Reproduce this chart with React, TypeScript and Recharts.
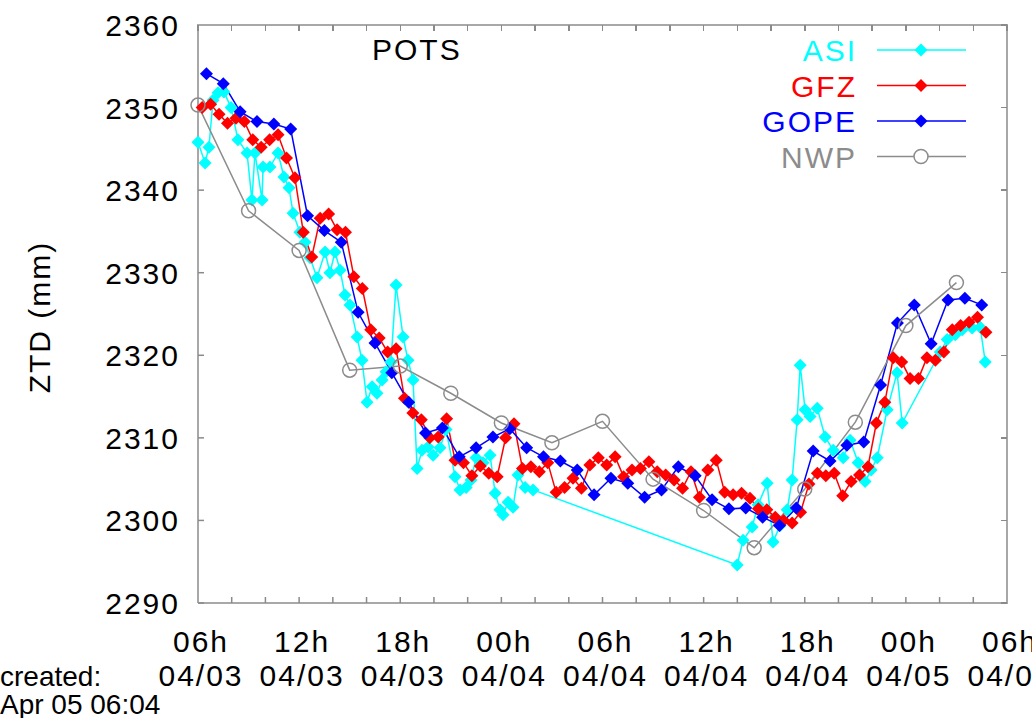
import React from "react";
import { Customized, Line, LineChart, XAxis, YAxis } from "recharts";

// time axis: hours after 06h 04/03
const minorTickHours = [0, 2, 4, 6, 8, 10, 12, 14, 16, 18, 20, 22, 24, 26, 28, 30, 32, 34, 36, 38, 40, 42, 44, 46, 48];
const labelHours = [0, 6, 12, 18, 24, 30, 36, 42, 48];
const labelTimes = ["06h", "12h", "18h", "00h", "06h", "12h", "18h", "00h", "06h"];
const labelDates = ["04/03", "04/03", "04/03", "04/04", "04/04", "04/04", "04/04", "04/05", "04/05"];
const ztdTicks = [2290, 2300, 2310, 2320, 2330, 2340, 2350, 2360];
const H_MIN = 0;
const H_MAX = 48;
const ZTD_MIN = 2290;
const ZTD_MAX = 2360;

const asiHours = [
  0.0, 0.42, 0.65, 0.89, 1.19, 1.54, 1.96, 2.37, 2.91, 3.2, 3.38, 3.8, 3.86, 4.27, 4.75, 5.1, 5.4, 5.64,
  6.05, 6.35, 6.65, 7.06, 7.54, 7.83, 8.13, 8.43, 8.72, 9.02, 9.44, 9.73, 10.03, 10.33, 10.62, 10.92,
  11.16, 11.45, 11.75, 12.17, 12.46, 12.76, 13.0, 13.29, 13.65, 13.95, 14.36, 14.72, 15.25, 15.55, 15.91,
  16.2, 16.5, 16.91, 17.33, 17.63, 17.92, 18.1, 18.4, 18.69, 18.99, 19.41, 19.88, 31.99, 32.34, 32.88,
  33.23, 33.77, 34.12, 34.54, 34.96, 35.25, 35.55, 35.73, 36.02, 36.32, 36.74, 37.21, 37.69, 38.28, 38.69,
  39.17, 39.58, 39.94, 40.3, 40.89, 41.48, 41.78, 44.04, 44.45, 44.93, 45.34, 45.93, 46.41, 46.71,
];
const asiZtd = [
  2345.8, 2343.3, 2345.2, 2350.9, 2351.8, 2351.9, 2350.0, 2346.1, 2344.5, 2338.8, 2344.5, 2338.8, 2342.8,
  2342.8, 2344.5, 2341.6, 2340.3, 2337.2, 2334.9, 2333.7, 2331.8, 2329.4, 2332.5, 2330.0, 2332.5, 2330.3,
  2327.3, 2326.1, 2322.2, 2319.4, 2314.3, 2316.2, 2315.4, 2317.0, 2318.0, 2319.2, 2328.5, 2322.2, 2319.4,
  2317.0, 2306.3, 2308.5, 2308.9, 2307.9, 2308.8, 2311.0, 2305.3, 2303.7, 2304.0, 2304.9, 2307.6, 2307.0,
  2307.9, 2303.3, 2301.3, 2300.7, 2302.2, 2301.6, 2305.5, 2304.0, 2303.7, 2294.6, 2297.6, 2299.2, 2301.9,
  2304.5, 2297.4, 2299.4, 2301.3, 2304.9, 2312.2, 2318.8, 2313.4, 2312.6, 2313.6, 2310.1, 2308.5, 2307.6,
  2309.7, 2307.0, 2304.7, 2306.1, 2307.6, 2313.4, 2317.9, 2311.8, 2320.4, 2321.9, 2322.5, 2323.1, 2323.3,
  2323.4, 2319.2,
];

const gfzHours = [
  0.25, 0.75, 1.25, 1.75, 2.25, 2.75, 3.25, 3.75, 4.25, 4.75, 5.25, 5.75, 6.25, 6.75, 7.25, 7.75, 8.25,
  8.75, 9.25, 9.75, 10.25, 10.75, 11.25, 11.75, 12.25, 12.75, 13.25, 13.75, 14.25, 14.75, 15.25, 15.75,
  16.25, 16.75, 17.25, 17.75, 18.25, 18.75, 19.25, 19.75, 20.25, 20.75, 21.25, 21.75, 22.25, 22.75, 23.25,
  23.75, 24.25, 24.75, 25.25, 25.75, 26.25, 26.75, 27.25, 27.75, 28.25, 28.75, 29.25, 29.75, 30.25, 30.75,
  31.25, 31.75, 32.25, 32.75, 33.25, 33.75, 34.25, 34.75, 35.25, 35.75, 36.25, 36.75, 37.25, 37.75, 38.25,
  38.75, 39.25, 39.75, 40.25, 40.75, 41.25, 41.75, 42.25, 42.75, 43.25, 43.75, 44.25, 44.75, 45.25, 45.75,
  46.25, 46.75,
];
const gfzZtd = [
  2350.0, 2350.4, 2349.2, 2348.1, 2348.7, 2348.3, 2346.1, 2345.2, 2346.1, 2346.7, 2343.9, 2341.5, 2334.9,
  2331.9, 2336.6, 2337.1, 2335.2, 2334.9, 2329.5, 2328.1, 2323.1, 2322.1, 2320.4, 2320.8, 2314.8, 2313.0,
  2312.2, 2310.0, 2310.1, 2312.3, 2307.3, 2307.0, 2305.4, 2306.6, 2305.7, 2305.3, 2310.0, 2311.7, 2306.3,
  2306.5, 2305.9, 2307.0, 2303.4, 2304.0, 2305.1, 2303.9, 2306.7, 2307.6, 2306.7, 2307.7, 2305.3, 2306.1,
  2306.3, 2307.1, 2305.9, 2305.5, 2304.9, 2303.9, 2305.9, 2302.8, 2306.1, 2307.3, 2303.4, 2303.1, 2303.3,
  2302.7, 2301.4, 2301.3, 2300.4, 2300.0, 2299.7, 2301.0, 2304.4, 2305.7, 2305.4, 2305.7, 2303.0, 2304.7,
  2305.5, 2306.5, 2311.8, 2314.3, 2319.7, 2319.2, 2317.2, 2317.2, 2319.7, 2319.4, 2320.4, 2323.1, 2323.6,
  2324.0, 2324.6, 2322.8,
];

const gopeHours = [
  0.5, 1.5, 2.5, 3.5, 4.5, 5.5, 6.5, 7.5, 8.5, 9.5, 10.5, 11.5, 12.5, 13.5, 14.5, 15.5, 16.5, 17.5, 18.5,
  19.5, 20.5, 21.5, 22.5, 23.5, 24.5, 25.5, 26.5, 27.5, 28.5, 29.5, 30.5, 31.5, 32.5, 33.5, 34.5, 35.5,
  36.5, 37.5, 38.5, 39.5, 40.5, 41.5, 42.5, 43.5, 44.5, 45.5, 46.5,
];
const gopeZtd = [
  2354.1, 2352.9, 2349.5, 2348.3, 2348.0, 2347.4, 2336.9, 2335.1, 2333.7, 2325.2, 2321.5, 2317.9, 2314.3,
  2310.6, 2311.2, 2307.7, 2308.8, 2310.1, 2311.1, 2308.8, 2307.7, 2307.2, 2306.1, 2303.1, 2305.1, 2304.5,
  2302.8, 2303.7, 2306.5, 2305.4, 2302.5, 2301.4, 2301.5, 2300.4, 2299.4, 2301.5, 2308.4, 2307.2, 2309.1,
  2309.5, 2316.4, 2323.9, 2326.1, 2321.4, 2326.7, 2326.9, 2326.1,
];

const nwpHours = [0, 3, 6, 9, 12, 15, 18, 21, 24, 27, 30, 33, 36, 39, 42, 45];
const nwpZtd = [
  2350.3, 2337.5, 2332.7, 2318.2, 2318.7, 2315.4, 2311.8, 2309.4, 2312.0, 2305.0, 2301.2, 2296.7, 2303.8,
  2311.9, 2323.6, 2328.8,
];

const toRows = (hours: number[], ztd: number[]) => hours.map((h, i) => ({ h, ztd: ztd[i] }));
const asiData = toRows(asiHours, asiZtd);
const gfzData = toRows(gfzHours, gfzZtd);
const gopeData = toRows(gopeHours, gopeZtd);
const nwpData = toRows(nwpHours, nwpZtd);

const FONT = "'Liberation Sans', Arial, Helvetica, sans-serif";
const FS = 30;
const BORDER = "#a8a8a8";
const TICK = "#8a8a8a";
const CYAN = "#00ffff";
const RED = "#ff0000";
const BLUE = "#0000ff";
const GRAY = "#8c8c8c";

// chart box
const W = 1032;
const H = 718;
const M = { top: 25, right: 25, bottom: 0, left: 0 };
const Y_AXIS_W = 198;
const X_AXIS_H = 115;
const PLOT = {
  left: M.left + Y_AXIS_W,
  right: W - M.right,
  top: M.top,
  bottom: H - M.bottom - X_AXIS_H,
};
const TICK_LEN = 6;

const diamond = (color: string) => (props: any) => {
  const { cx, cy, index } = props;
  if (cx == null || cy == null) return <g key={`d${index}`} />;
  const r = 6.5;
  return (
    <path key={`d${index}`} d={`M${cx},${cy - r}L${cx + r},${cy}L${cx},${cy + r}L${cx - r},${cy}Z`} fill={color} />
  );
};

const ring = (props: any) => {
  const { cx, cy, index } = props;
  if (cx == null || cy == null) return <g key={`r${index}`} />;
  return <circle key={`r${index}`} cx={cx} cy={cy} r={7} fill="none" stroke={GRAY} strokeWidth={1.5} />;
};

const TimeTick = (props: any) => {
  const { x, y, payload } = props;
  const i = labelHours.indexOf(payload.value);
  if (i < 0) return <g />;
  return (
    <g fontFamily={FONT} fontSize={FS} fill="#000" letterSpacing={2}>
      <text x={x + 3} y={y + 55} textAnchor="middle">
        {labelTimes[i]}
      </text>
      <text x={x + 3} y={y + 89} textAnchor="middle">
        {labelDates[i]}
      </text>
    </g>
  );
};

const ZtdTick = (props: any) => {
  const { x, y, payload } = props;
  return (
    <text x={x - 24} y={y + 11} textAnchor="end" fontFamily={FONT} fontSize={FS} fill="#000" letterSpacing={2}>
      {payload.value}
    </text>
  );
};

// top and right border as plain html boxes laid over the chart, with inward ticks
const Frame = () => {
  const px = (h: number) => PLOT.left + ((h - H_MIN) / (H_MAX - H_MIN)) * (PLOT.right - PLOT.left);
  const py = (v: number) => PLOT.bottom - ((v - ZTD_MIN) / (ZTD_MAX - ZTD_MIN)) * (PLOT.bottom - PLOT.top);
  const box: React.CSSProperties = { position: "absolute", pointerEvents: "none", zIndex: 5 };
  return (
    <>
      <div
        style={{
          ...box,
          left: PLOT.left - 1,
          top: PLOT.top - 1,
          width: PLOT.right - PLOT.left + 2,
          height: 2,
          background: BORDER,
        }}
      />
      <div
        style={{
          ...box,
          left: PLOT.right - 1,
          top: PLOT.top - 1,
          width: 2,
          height: PLOT.bottom - PLOT.top + 2,
          background: BORDER,
        }}
      />
      {minorTickHours.map((h) => (
        <div
          key={`tt${h}`}
          style={{ ...box, left: px(h) - 0.75, top: PLOT.top, width: 1.5, height: TICK_LEN, background: TICK }}
        />
      ))}
      {ztdTicks.map((v) => (
        <div
          key={`rt${v}`}
          style={{ ...box, left: PLOT.right - TICK_LEN, top: py(v) - 0.75, width: TICK_LEN, height: 1.5, background: TICK }}
        />
      ))}
    </>
  );
};

const legendRows = [
  { name: "ASI", color: CYAN, mark: "diamond" },
  { name: "GFZ", color: RED, mark: "diamond" },
  { name: "GOPE", color: BLUE, mark: "diamond" },
  { name: "NWP", color: GRAY, mark: "ring" },
];

const Overlay = () => (
  <g fontFamily={FONT} fontSize={FS} letterSpacing={2}>
    <text x={372} y={60} fill="#000">
      POTS
    </text>
    {legendRows.map((row, i) => {
      const ly = 50 + i * 35.5;
      return (
        <g key={row.name}>
          <text x={857} y={ly + 11} textAnchor="end" fill={row.color}>
            {row.name}
          </text>
          <line x1={877} x2={966} y1={ly} y2={ly} stroke={row.color} strokeWidth={1.5} />
          {row.mark === "diamond" ? (
            <path d={`M921,${ly - 6.5}L927.5,${ly}L921,${ly + 6.5}L914.5,${ly}Z`} fill={row.color} />
          ) : (
            <circle cx={921} cy={ly} r={7} fill="#fff" stroke={row.color} strokeWidth={1.5} />
          )}
        </g>
      );
    })}
    <text x={50} y={317} textAnchor="middle" transform="rotate(-90 50 317)" fill="#000">
      ZTD (mm)
    </text>
    <g fontSize={28} letterSpacing={0}>
      <text x={0} y={686} fill="#000">
        created:
      </text>
      <text x={0} y={714} fill="#000">
        Apr 05 06:04
      </text>
    </g>
  </g>
);

export default function App() {
  return (
    <div style={{ position: "absolute", left: 0, top: 0, width: W, height: H, background: "#fff" }}>
      <LineChart width={W} height={H} margin={M}>
        <XAxis
          dataKey="h"
          type="number"
          domain={[H_MIN, H_MAX]}
          ticks={minorTickHours}
          interval={0}
          height={X_AXIS_H}
          tickSize={-TICK_LEN}
          tickMargin={0}
          axisLine={{ stroke: BORDER, strokeWidth: 2 }}
          tickLine={{ stroke: TICK, strokeWidth: 1.5 }}
          tick={<TimeTick />}
        />
        <YAxis
          type="number"
          domain={[ZTD_MIN, ZTD_MAX]}
          ticks={ztdTicks}
          interval={0}
          width={Y_AXIS_W}
          tickSize={-TICK_LEN}
          tickMargin={0}
          axisLine={{ stroke: BORDER, strokeWidth: 2 }}
          tickLine={{ stroke: TICK, strokeWidth: 1.5 }}
          tick={<ZtdTick />}
        />
        <Line
          data={asiData}
          dataKey="ztd"
          stroke={CYAN}
          strokeWidth={1.5}
          dot={diamond(CYAN)}
          isAnimationActive={false}
        />
        <Line
          data={gfzData}
          dataKey="ztd"
          stroke={RED}
          strokeWidth={1.5}
          dot={diamond(RED)}
          isAnimationActive={false}
        />
        <Line
          data={gopeData}
          dataKey="ztd"
          stroke={BLUE}
          strokeWidth={1.5}
          dot={diamond(BLUE)}
          isAnimationActive={false}
        />
        <Line
          data={nwpData}
          dataKey="ztd"
          stroke={GRAY}
          strokeWidth={1.5}
          dot={ring}
          isAnimationActive={false}
        />
        <Customized component={<Overlay />} />
      </LineChart>
      <Frame />
    </div>
  );
}
